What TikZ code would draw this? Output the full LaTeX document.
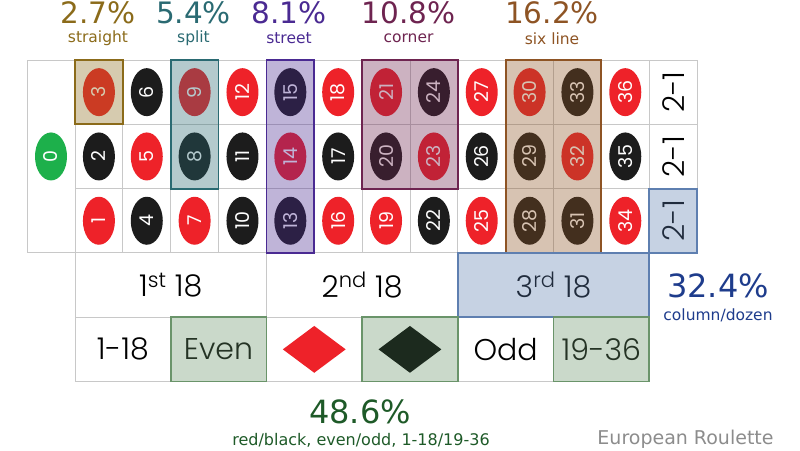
\documentclass[tikz,border=0pt]{standalone}
\usepackage{fontspec}
\setmainfont{DejaVu Sans}
\newfontfamily\tblfont{Poppins}[UprightFont=* Light]
\newfontfamily\chipfont{Poppins}
\usetikzlibrary{shapes.geometric}
\definecolor{gridgray}{HTML}{C8C8C8}
\definecolor{rr}{HTML}{EE2229}
\definecolor{bk}{HTML}{1C1C1C}
\definecolor{bkd}{HTML}{1C2A1E}
\definecolor{gr}{HTML}{1DB04B}
\definecolor{straightC}{HTML}{8B6B1A}
\definecolor{splitC}{HTML}{2A6A72}
\definecolor{streetC}{HTML}{4A2A92}
\definecolor{cornerC}{HTML}{6E2450}
\definecolor{sixC}{HTML}{8E5424}
\definecolor{colC}{HTML}{5E7FB0}
\definecolor{evenC}{HTML}{6A946A}
\definecolor{colT}{HTML}{1E3C8C}
\definecolor{evenT}{HTML}{1E5A28}
\definecolor{titleT}{HTML}{8C8C8C}
\begin{document}
\begin{tikzpicture}[x=1pt,y=-1pt,
  cell/.style={draw=gridgray, fill=white, line width=0.9pt, rectangle, inner sep=0pt, outer sep=0pt,
    minimum width=47.85pt, minimum height=64.3pt},
  chip/.style={ellipse, rotate=90, minimum width=48pt, minimum height=32pt, inner sep=0pt,
    text=white, font=\chipfont\fontsize{19}{19}\selectfont},
  bigtxt/.style={font=\tblfont\fontsize{30}{32}\selectfont, text=black},
  hl/.style={draw=#1, fill=#1, fill opacity=0.35, line width=1.8pt},
  pct/.style={font=\fontsize{29.5}{31}\selectfont, inner sep=0pt},
  bpct/.style={font=\fontsize{32}{34}\selectfont, inner sep=0pt},
  lbl/.style={font=\fontsize{15.5}{17}\selectfont, inner sep=0pt},
  dia/.style={diamond, minimum width=63pt, minimum height=47pt, inner sep=0pt}]
\useasboundingbox (0,0) rectangle (800,450);

% zero cell
\node[cell, minimum width=48pt, minimum height=192.9pt] (zero) at (51,156.45) {};
% number cells
\foreach \c in {1,...,12}{
  \foreach \r in {1,2,3}{
    \pgfmathtruncatemacro\n{3*\c-\r+1}
    \pgfmathsetmacro\xx{75+(\c-0.5)*47.85}
    \pgfmathsetmacro\yy{60+(\r-0.5)*64.3}
    \node[cell] (cell\n) at (\xx,\yy) {};
  }
}
% 2-1 column
\foreach \r in {1,2,3}{
  \pgfmathsetmacro\yy{60+(\r-0.5)*64.3}
  \node[cell] (col\r) at (673.1,\yy) {};
  \node[bigtxt, rotate=90] (coltxt\r) at (col\r) {2-1};
}
% dozens
\node[cell, minimum width=191.4pt] (doz1) at (170.7,285.05) {};
\node[cell, minimum width=191.4pt] (doz2) at (362.1,285.05) {};
\node[cell, minimum width=191.4pt] (doz3) at (553.5,285.05) {};
\node[bigtxt] (doz1t) at (doz1) {1\textsuperscript{st} 18};
\node[bigtxt] (doz2t) at (doz2) {2\textsuperscript{nd} 18};
\node[bigtxt] (doz3t) at (doz3) {3\textsuperscript{rd} 18};
% even-money row
\node[cell, minimum width=95.7pt] (low) at (122.85,349.35) {};
\node[cell, minimum width=95.7pt] (even) at (218.55,349.35) {};
\node[cell, minimum width=95.7pt] (red) at (314.25,349.35) {};
\node[cell, minimum width=95.7pt] (black) at (409.95,349.35) {};
\node[cell, minimum width=95.7pt] (odd) at (505.65,349.35) {};
\node[cell, minimum width=95.7pt] (high) at (601.35,349.35) {};
\node[bigtxt] (lowt) at (low) {1-18};
\node[bigtxt] (event) at (even) {Even};
\node[bigtxt] (oddt) at (odd) {Odd};
\node[bigtxt] (hight) at (high) {19-36};
\node[dia, fill=rr] (reddia) at (red) {};

% chips
\node[chip, fill=gr] (chip0) at (zero) {0};
\foreach \n/\col in {1/rr,2/bk,3/rr,4/bk,5/rr,6/bk,7/rr,8/bk,9/rr,10/bk,11/bk,12/rr,
  13/bk,14/rr,15/bk,16/rr,17/bk,18/rr,19/rr,20/bk,21/rr,22/bk,23/rr,24/bk,
  25/rr,26/bk,27/rr,28/bk,29/bk,30/rr,31/bk,32/rr,33/bk,34/rr,35/bk,36/rr}{
  \node[chip, fill=\col] (chip\n) at (cell\n) {\n};
}

% highlights
\draw[hl=straightC] (cell3.north west) rectangle (cell3.south east);
\draw[hl=splitC] (cell9.north west) rectangle (cell8.south east);
\draw[hl=streetC] (cell15.north west) rectangle (cell13.south east);
\draw[hl=cornerC] (cell21.north west) rectangle (cell23.south east);
\draw[hl=sixC] (cell30.north west) rectangle (cell31.south east);
\draw[hl=colC] (col3.north west) rectangle (col3.south east);
\draw[hl=colC] (doz3.north west) rectangle (doz3.south east);
\draw[hl=evenC] (even.north west) rectangle (even.south east);
\draw[hl=evenC] (black.north west) rectangle (black.south east);
\draw[hl=evenC] (high.north west) rectangle (high.south east);
\node[dia, fill=bkd] (blackdia) at (black) {};

% labels
\node[pct, text=straightC] (p1) at (98,13) {2.7\%};
\node[lbl, text=straightC] (l1) at (98,38.5) {straight};
\node[pct, text=splitC] (p2) at (193.5,13) {5.4\%};
\node[lbl, text=splitC] (l2) at (193.5,38.5) {split};
\node[pct, text=streetC] (p3) at (289,13) {8.1\%};
\node[lbl, text=streetC] (l3) at (289,38.5) {street};
\node[pct, text=cornerC] (p4) at (408.5,13) {10.8\%};
\node[lbl, text=cornerC] (l4) at (408.5,38.5) {corner};
\node[pct, text=sixC] (p5) at (552,13) {16.2\%};
\node[lbl, text=sixC] (l5) at (552,38.5) {six line};
\node[bpct, text=colT] (p6) at (718,286) {32.4\%};
\node[lbl, text=colT] (l6) at (718,315) {column/dozen};
\node[bpct, text=evenT] (p7) at (360,412) {48.6\%};
\node[lbl, font=\fontsize{16}{18}\selectfont, text=evenT] (l7) at (361,440) {red/black, even/odd, 1-18/19-36};
\node[font=\fontsize{19}{21}\selectfont, text=titleT, inner sep=0pt] (title) at (685.5,439) {European Roulette};
\end{tikzpicture}
\end{document}
